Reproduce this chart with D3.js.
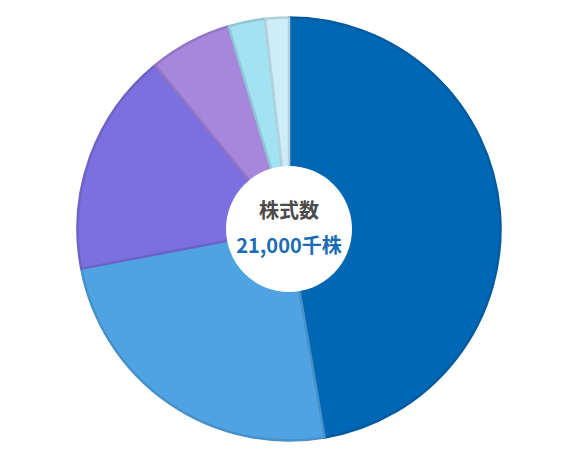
<!DOCTYPE html>
<html>
<head>
<meta charset="utf-8">
<script src="https://cdn.jsdelivr.net/npm/d3@7"></script>
<style>
  body { margin: 0; background: #fff; }
</style>
</head>
<body>
<script>
// share breakdown (%), clockwise from 12 o'clock
var categories = ["区分1", "区分2", "区分3", "区分4", "区分5", "区分6"];
var values = [47.3, 24.7, 17.1, 6.3, 2.8, 1.8];
var colors = ["#0067b5", "#50a3e3", "#7c70e0", "#a787dc", "#a2e2f2", "#cdeef8"];
var centerTitle = "株式数";
var centerValue = "21,000千株";

var width = 570, height = 455,
    cx = 289, cy = 229,
    radius = 213, holeR = 63;

var svg = d3.select("body").append("svg")
    .attr("width", width)
    .attr("height", height);

var g = svg.append("g")
    .attr("transform", "translate(" + cx + "," + cy + ")");

var color = d3.scaleOrdinal()
    .domain(categories)
    .range(colors);

var pie = d3.pie()
    .sort(null)
    .value(function(d, i) { return values[i]; });

var arc = d3.arc()
    .innerRadius(0)
    .outerRadius(radius - 1.5);

g.selectAll("path")
    .data(pie(categories))
  .enter().append("path")
    .attr("d", arc)
    .attr("fill", function(d) { return color(d.data); })
    .attr("stroke", function(d) { return d3.color(color(d.data)).darker(0.35); })
    .attr("stroke-width", 2.5)
    .attr("stroke-linejoin", "round");

// white hole in the middle
g.append("circle")
    .attr("r", holeR)
    .attr("fill", "#fff");

g.append("text")
    .attr("y", -16)
    .attr("text-anchor", "middle")
    .attr("dominant-baseline", "middle")
    .style("font-family", "'Noto Sans CJK JP', sans-serif")
    .style("font-weight", "bold")
    .style("font-size", "20px")
    .style("fill", "#4a4a4a")
    .text(centerTitle);

g.append("text")
    .attr("y", 19)
    .attr("text-anchor", "middle")
    .attr("dominant-baseline", "middle")
    .style("font-family", "'Noto Sans CJK JP', sans-serif")
    .style("font-weight", "bold")
    .style("font-size", "20px")
    .style("fill", "#1b6db3")
    .text(centerValue);
</script>
</body>
</html>
